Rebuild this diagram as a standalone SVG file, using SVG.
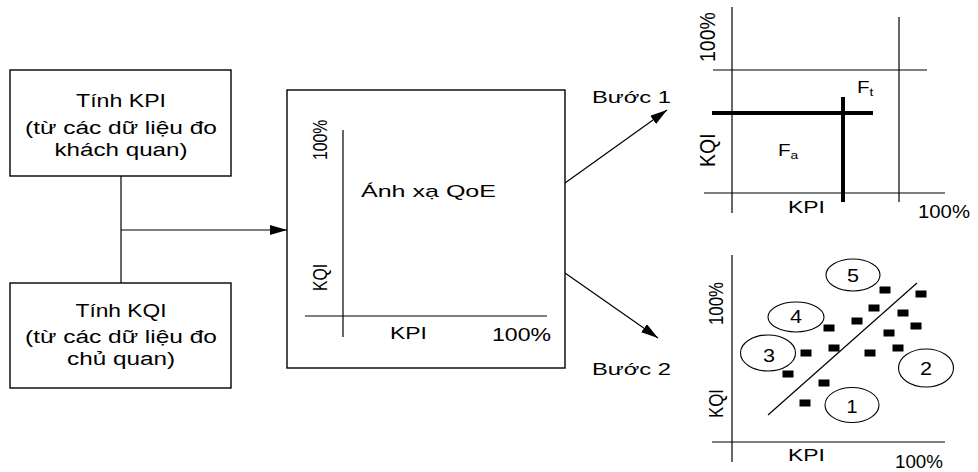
<svg xmlns="http://www.w3.org/2000/svg" width="978" height="472" viewBox="0 0 978 472">
<style>
  text { font-family: "Liberation Sans", Arial, sans-serif; fill: #000; }
  .ln { stroke: #000; stroke-width: 1.2; fill: none; }
  .bx { fill: #fff; stroke: #000; stroke-width: 1.4; }
  .thick { stroke: #000; stroke-width: 4; fill: none; }
  .sq { fill: #000; }
  .ell { fill: #fff; stroke: #000; stroke-width: 1.1; }
  .bt { font-size: 18px; }
  .ax { font-size: 16.5px; }
</style>
<defs>
  <marker id="arr" markerUnits="userSpaceOnUse" markerWidth="18" markerHeight="11" refX="17" refY="5" orient="auto">
    <path d="M0,0 L17,5 L0,10 z" fill="#000"/>
  </marker>
</defs>
<rect width="978" height="472" fill="#fff"/>

<g id="connectors">
  <line class="ln" x1="121" y1="176" x2="121" y2="283"/>
  <line class="ln" x1="121" y1="230" x2="287" y2="230" marker-end="url(#arr)"/>
  <line class="ln" x1="565" y1="183" x2="667" y2="110" marker-end="url(#arr)"/>
  <line class="ln" x1="565" y1="273" x2="658" y2="338" marker-end="url(#arr)"/>
  <text x="592" y="103" font-size="16.5" textLength="79" lengthAdjust="spacingAndGlyphs">Bước 1</text>
  <text x="592" y="375" font-size="16.5" textLength="79" lengthAdjust="spacingAndGlyphs">Bước 2</text>
</g>

<g id="box-kpi">
  <rect class="bx" x="10" y="70" width="221" height="106"/>
  <text class="bt" x="121" y="107" text-anchor="middle" textLength="90" lengthAdjust="spacingAndGlyphs">Tính KPI</text>
  <text class="bt" x="121" y="134" text-anchor="middle" textLength="192" lengthAdjust="spacingAndGlyphs">(từ các dữ liệu đo</text>
  <text class="bt" x="121" y="156" text-anchor="middle" textLength="133" lengthAdjust="spacingAndGlyphs">khách quan)</text>
</g>

<g id="box-kqi">
  <rect class="bx" x="10" y="283" width="221" height="105"/>
  <text class="bt" x="121" y="317" text-anchor="middle" textLength="91" lengthAdjust="spacingAndGlyphs">Tính KQI</text>
  <text class="bt" x="121" y="343" text-anchor="middle" textLength="192" lengthAdjust="spacingAndGlyphs">(từ các dữ liệu đo</text>
  <text class="bt" x="121" y="365" text-anchor="middle" textLength="108" lengthAdjust="spacingAndGlyphs">chủ quan)</text>
</g>

<g id="qoe-map">
  <rect class="bx" x="287" y="90" width="278" height="278"/>
  <line class="ln" x1="343" y1="130" x2="343" y2="337"/>
  <line class="ln" x1="305" y1="316" x2="547" y2="316"/>
  <text font-size="15.8" transform="translate(327,160) scale(1.3,1) rotate(-90)">100%</text>
  <text font-size="15.8" transform="translate(327,291) scale(1.3,1) rotate(-90)">KQI</text>
  <text x="361" y="197" font-size="17" textLength="135" lengthAdjust="spacingAndGlyphs">Ánh xạ QoE</text>
  <text class="ax" x="390" y="339" textLength="37" lengthAdjust="spacingAndGlyphs">KPI</text>
  <text x="492" y="341" font-size="17.5" textLength="59" lengthAdjust="spacingAndGlyphs">100%</text>
</g>

<g id="step1-chart">
  <line class="ln" x1="732" y1="7" x2="732" y2="213"/>
  <line class="ln" x1="899" y1="17" x2="899" y2="202"/>
  <line class="ln" x1="713" y1="70" x2="927" y2="70"/>
  <line class="ln" x1="704" y1="193" x2="945" y2="193"/>
  <line class="thick" x1="712" y1="113" x2="873" y2="113"/>
  <line class="thick" x1="843" y1="97" x2="843" y2="202"/>
  <text font-size="19.5" transform="translate(715,62) scale(1.1,1) rotate(-90)">100%</text>
  <text font-size="19.5" transform="translate(715,167) scale(1.1,1) rotate(-90)">KQI</text>
  <text font-size="16.5" transform="translate(857,93) scale(1.25,1)">F<tspan font-size="11" dy="3">t</tspan></text>
  <text font-size="16.5" transform="translate(778,156) scale(1.25,1)">F<tspan font-size="11" dy="3">a</tspan></text>
  <text class="ax" x="788" y="213" textLength="37" lengthAdjust="spacingAndGlyphs">KPI</text>
  <text x="918" y="218" font-size="18" textLength="52" lengthAdjust="spacingAndGlyphs">100%</text>
</g>

<g id="step2-chart">
  <line class="ln" x1="732" y1="255" x2="732" y2="462"/>
  <line class="ln" x1="712" y1="442" x2="945" y2="442"/>
  <line class="ln" x1="768" y1="415" x2="917" y2="283"/>
  <text font-size="16.8" transform="translate(723,325) scale(1.25,1) rotate(-90)">100%</text>
  <text font-size="16.8" transform="translate(723,418) scale(1.25,1) rotate(-90)">KQI</text>
  <text class="ax" x="788" y="461" textLength="37" lengthAdjust="spacingAndGlyphs">KPI</text>
  <text x="895" y="468" font-size="18" textLength="48" lengthAdjust="spacingAndGlyphs">100%</text>
  <g id="cluster-5"><ellipse class="ell" cx="853" cy="275" rx="27" ry="16"/><text x="853" y="282" font-size="17.5" text-anchor="middle" textLength="12" lengthAdjust="spacingAndGlyphs">5</text></g>
  <g id="cluster-4"><ellipse class="ell" cx="796" cy="317" rx="28" ry="15"/><text x="796" y="323" font-size="17.5" text-anchor="middle" textLength="12" lengthAdjust="spacingAndGlyphs">4</text></g>
  <g id="cluster-3"><ellipse class="ell" cx="768" cy="353" rx="27.5" ry="18"/><text x="769" y="362" font-size="17.5" text-anchor="middle" textLength="12" lengthAdjust="spacingAndGlyphs">3</text></g>
  <g id="cluster-2"><ellipse class="ell" cx="926" cy="368" rx="27.5" ry="19"/><text x="926" y="375" font-size="17.5" text-anchor="middle" textLength="12" lengthAdjust="spacingAndGlyphs">2</text></g>
  <g id="cluster-1"><ellipse class="ell" cx="852" cy="405" rx="27" ry="17.5"/><text x="852" y="413" font-size="17.5" text-anchor="middle" textLength="11" lengthAdjust="spacingAndGlyphs">1</text></g>
  <g id="points">
    <rect class="sq" x="879.5" y="286.5" width="11" height="7"/>
    <rect class="sq" x="915.5" y="290.5" width="11" height="7"/>
    <rect class="sq" x="868.5" y="304.5" width="11" height="7"/>
    <rect class="sq" x="897.5" y="309.5" width="11" height="7"/>
    <rect class="sq" x="851.5" y="317.5" width="11" height="7"/>
    <rect class="sq" x="823.5" y="324.5" width="11" height="7"/>
    <rect class="sq" x="910.5" y="322.5" width="11" height="7"/>
    <rect class="sq" x="883.5" y="329.5" width="11" height="7"/>
    <rect class="sq" x="800.5" y="349.5" width="11" height="7"/>
    <rect class="sq" x="828.5" y="344.5" width="11" height="7"/>
    <rect class="sq" x="892.5" y="344.5" width="11" height="7"/>
    <rect class="sq" x="864.5" y="349.5" width="11" height="7"/>
    <rect class="sq" x="782.5" y="370.5" width="11" height="7"/>
    <rect class="sq" x="818.5" y="379.5" width="11" height="7"/>
    <rect class="sq" x="799.5" y="399.5" width="11" height="7"/>
  </g>
</g>
</svg>
